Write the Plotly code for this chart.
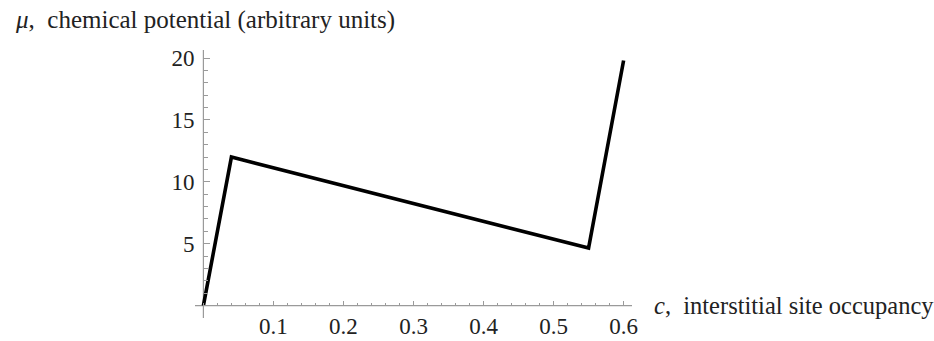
import plotly.graph_objects as go

# Piecewise-linear chemical potential curve
occupancy = [0.0, 0.04, 0.55, 0.6]
potential = [0.0, 12.0, 4.65, 19.8]

x_tick_vals = [0.1, 0.2, 0.3, 0.4, 0.5, 0.6]
x_tick_text = ["0.1", "0.2", "0.3", "0.4", "0.5", "0.6"]
y_tick_vals = [5, 10, 15, 20]
y_tick_text = ["5", "10", "15", "20"]

FONT = "Liberation Serif"
AXIS_COLOR = "#9a9a9a"
TICK_SIZE = 23
LABEL_SIZE = 25

W, H = 934, 341
left, right, top, bottom = 195, 632, 50, 318
x_range = [-0.012, 0.612]
y_range = [-1.0, 20.65]

# where the axes cross (x=0, y=0) in plot-area fractions
x_axis_pos = (0 - y_range[0]) / (y_range[1] - y_range[0])
y_axis_pos = (0 - x_range[0]) / (x_range[1] - x_range[0])

fig = go.Figure(
    go.Scatter(
        x=occupancy,
        y=potential,
        mode="lines",
        line=dict(color="black", width=3.6),
        hoverinfo="skip",
    )
)

fig.update_layout(
    width=W,
    height=H,
    margin=dict(l=left, r=W - right, t=top, b=H - bottom, pad=0,
                autoexpand=False),
    paper_bgcolor="white",
    plot_bgcolor="white",
    showlegend=False,
    font=dict(family=FONT, size=TICK_SIZE, color="#222"),
    xaxis=dict(
        range=x_range,
        anchor="free",
        position=x_axis_pos,
        automargin=False,
        showgrid=False,
        zeroline=False,
        showline=False,
        tickmode="array",
        tickvals=x_tick_vals,
        ticktext=x_tick_text,
        ticks="inside",
        ticklen=5,
        tickwidth=1,
        tickcolor=AXIS_COLOR,
        ticklabelstandoff=4,
        tickfont=dict(family=FONT, size=TICK_SIZE, color="#222"),
        minor=dict(dtick=0.02, tick0=0, ticks="inside", ticklen=3,
                   tickwidth=1, tickcolor=AXIS_COLOR),
    ),
    yaxis=dict(
        range=y_range,
        anchor="free",
        position=y_axis_pos,
        automargin=False,
        showgrid=False,
        zeroline=False,
        showline=False,
        tickmode="array",
        tickvals=y_tick_vals,
        ticktext=y_tick_text,
        ticks="inside",
        ticklen=6,
        tickwidth=1,
        tickcolor=AXIS_COLOR,
        ticklabelstandoff=9,
        tickfont=dict(family=FONT, size=TICK_SIZE, color="#222"),
        minor=dict(dtick=1, tick0=0, ticks="inside", ticklen=3.5,
                   tickwidth=1, tickcolor=AXIS_COLOR),
    ),
)

# axis lines crossing at the origin, extending slightly past it
fig.add_shape(type="line", xref="x", yref="y",
              x0=x_range[0], x1=x_range[1], y0=0, y1=0,
              line=dict(color=AXIS_COLOR, width=1.2), layer="below")
fig.add_shape(type="line", xref="x", yref="y",
              x0=0, x1=0, y0=y_range[0], y1=y_range[1],
              line=dict(color=AXIS_COLOR, width=1.2), layer="below")

# axis labels
fig.add_annotation(
    text="<i>μ</i>,  chemical potential (arbitrary units)",
    xref="paper", yref="paper",
    x=(13 - left) / (right - left), y=(bottom - 20) / (bottom - top),
    xanchor="left", yanchor="middle", showarrow=False,
    font=dict(family=FONT, size=LABEL_SIZE, color="#222"),
)
fig.add_annotation(
    text="<i>c</i>,  interstitial site occupancy",
    xref="paper", yref="y",
    x=(652 - left) / (right - left), y=0,
    xanchor="left", yanchor="middle", showarrow=False,
    font=dict(family=FONT, size=LABEL_SIZE - 0.5, color="#222"),
)

fig.write_html("out.html")
